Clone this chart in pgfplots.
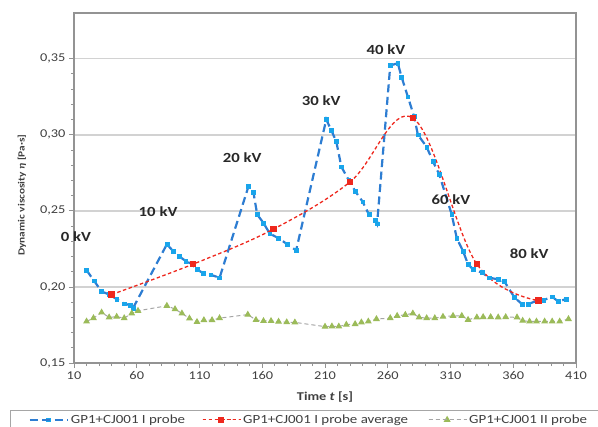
\documentclass[border=0pt]{standalone}
\usepackage{fontspec}
\setmainfont{Carlito}[FakeStretch=1.2]
\usepackage{pgfplots}
\pgfplotsset{compat=1.18}
\definecolor{bl}{RGB}{45,125,210}
\definecolor{blm}{RGB}{25,165,235}
\definecolor{rd}{RGB}{238,40,30}
\definecolor{gr}{RGB}{155,187,89}
\definecolor{gl}{RGB}{165,165,165}
\definecolor{tx}{RGB}{64,64,64}
\definecolor{kv}{RGB}{40,40,40}
\pgfplotsset{longleg/.style={legend image code/.code={\draw[mark repeat=2,mark phase=2,##1] plot coordinates {(0bp,0bp) (18.5bp,0bp) (37bp,0bp)};\path (0bp,0bp) -- (38bp,0bp);}}}
\begin{document}
\begin{tikzpicture}
\begin{axis}[
  at={(74bp,64bp)}, anchor=south west,
  scale only axis, width=502bp, height=350bp,
  xmin=10, xmax=410, ymin=0.15, ymax=0.38,
  xtick={10,60,...,410}, minor x tick num=4,
  ytick={0.15,0.20,0.25,0.30,0.35}, minor y tick num=4,
  ymajorgrids, major grid style={draw=gray!35, line width=1.6bp},
  axis line style={draw=gray!85, line width=1.4bp},
  tick style={draw=gray!85, line width=0.8bp},
  major tick length=5bp, minor tick length=3bp, tick align=outside,
  xtick pos=bottom, ytick pos=left,
  /pgf/number format/assume math mode=true,
  yticklabel style={/pgf/number format/.cd, fixed, fixed zerofill, precision=2, use comma},
  xticklabel style={/pgf/number format/.cd, fixed, precision=0},
  ticklabel style={font=\fontsize{12}{14}\selectfont, text=tx},
  xlabel={\textbf{Time \textit{t} [s]}},
  ylabel={\textbf{Dynamic viscosity \textit{η} [Pa·s]}},
  xlabel style={font=\fontsize{12}{14}\selectfont, text=tx, at={(axis description cs:0.5,0)}, anchor=center, yshift=-34bp},
  ylabel style={font=\fontsize{9.5}{11}\selectfont, text=tx, at={(axis description cs:0,0.48)}, anchor=center, yshift=52bp},
  clip=false,
  longleg,
  legend columns=3,
  legend cell align=left,
  legend style={at={(axis description cs:-0.1275,-0.1343)}, anchor=north west,
    draw=gray!70, line width=1.4bp, inner xsep=18bp, inner ysep=2bp,
    font=\fontsize{12.5}{14}\selectfont, text=tx},
]
% I probe
\addplot[bl, line width=2.2bp, dash pattern=on 8bp off 4.5bp,
  mark=square*, mark size=1.9bp, mark options={solid, draw=blm, fill=blm, line width=0.5bp}]
coordinates {
(20,0.211) (26,0.204) (32,0.197) (38,0.195) (44,0.192) (50,0.189) (55,0.188) (57,0.186)
(84,0.228) (89,0.2235) (94,0.220) (99,0.217) (104,0.215) (108,0.2115) (113,0.209) (119,0.208) (126,0.206)
(149,0.266) (153,0.262) (156,0.2475) (161,0.242) (166,0.235) (173,0.232) (180,0.228) (187,0.224)
(211,0.310) (215,0.303) (219,0.2955) (223,0.279) (229,0.270) (234,0.263) (240,0.256) (245,0.2475) (250,0.244) (251.5,0.2415)
(262,0.3455) (268,0.347) (271,0.338) (276,0.325) (281,0.312) (284,0.300) (291,0.292) (296,0.2825) (301,0.274) (311,0.2475) (315,0.232)
(320,0.2235) (324,0.2148) (328,0.2116) (335,0.2094) (341,0.206) (348,0.205) (353,0.2035)
(361,0.193) (367,0.1887) (372,0.1887) (380,0.1913) (384,0.1913) (391,0.1935) (396,0.1904) (402,0.192)
};
\addlegendentry{\makebox[129bp][l]{GP1+CJ001 I probe}}
% I probe average
\addplot[rd, line width=1.3bp, dash pattern=on 3.5bp off 2.5bp, smooth, tension=0.6,
  mark=square*, mark size=2.6bp, mark options={solid, draw=rd, fill=rd}]
coordinates {
(40,0.195) (105,0.215) (169,0.238) (230,0.269) (280,0.311) (331,0.215) (380,0.191)
};
\addlegendentry{\makebox[183bp][l]{GP1+CJ001 I probe average}}
% II probe
\addplot[gl, line width=1bp, dash pattern=on 4bp off 3bp,
  mark=triangle*, mark size=3bp, mark options={solid, draw=gr, fill=gr}]
coordinates {
(20,0.1773) (25.5,0.1795) (32,0.1832) (38,0.180) (44,0.1804) (50,0.1795) (56,0.1826) (61,0.1843)
(84,0.1876) (90.5,0.1854) (96,0.1826) (102,0.1793) (108,0.177) (113.5,0.1782) (120,0.1782) (126,0.1795)
(148.5,0.1818) (155,0.1783) (161,0.1776) (167,0.1776) (173,0.1772) (179.5,0.1768) (186,0.1767)
(210,0.1739) (215.5,0.1741) (221,0.1740) (227,0.1752) (234,0.1756) (239,0.1767) (244.5,0.1773) (251,0.1789)
(262,0.1795) (267.5,0.181) (274,0.1817) (280,0.1826) (285,0.180) (291,0.1795) (297.5,0.1795) (304,0.1804)
(312,0.181) (319,0.181) (324,0.1784) (331,0.180) (336,0.1802) (342,0.1802) (348,0.1800) (354,0.1802)
(363,0.180) (367.5,0.1778) (373,0.1773) (378.5,0.1773) (385,0.1773) (391,0.1773) (397,0.1773) (404,0.1789)
};
\addlegendentry{GP1+CJ001 II probe}
\begin{scope}[every node/.style={font=\bfseries\fontsize{14}{16}\selectfont, text=kv}]
\node at (axis cs:11.6,0.2327) {0 kV};
\node at (axis cs:77,0.2497) {10 kV};
\node at (axis cs:144,0.285) {20 kV};
\node at (axis cs:207,0.3222) {30 kV};
\node at (axis cs:258.6,0.3556) {40 kV};
\node at (axis cs:310.4,0.2575) {60 kV};
\node at (axis cs:372.7,0.2216) {80 kV};
\end{scope}
\end{axis}
\pgfresetboundingbox
\useasboundingbox (0,0) rectangle (598bp,427bp);
\end{tikzpicture}
\end{document}
